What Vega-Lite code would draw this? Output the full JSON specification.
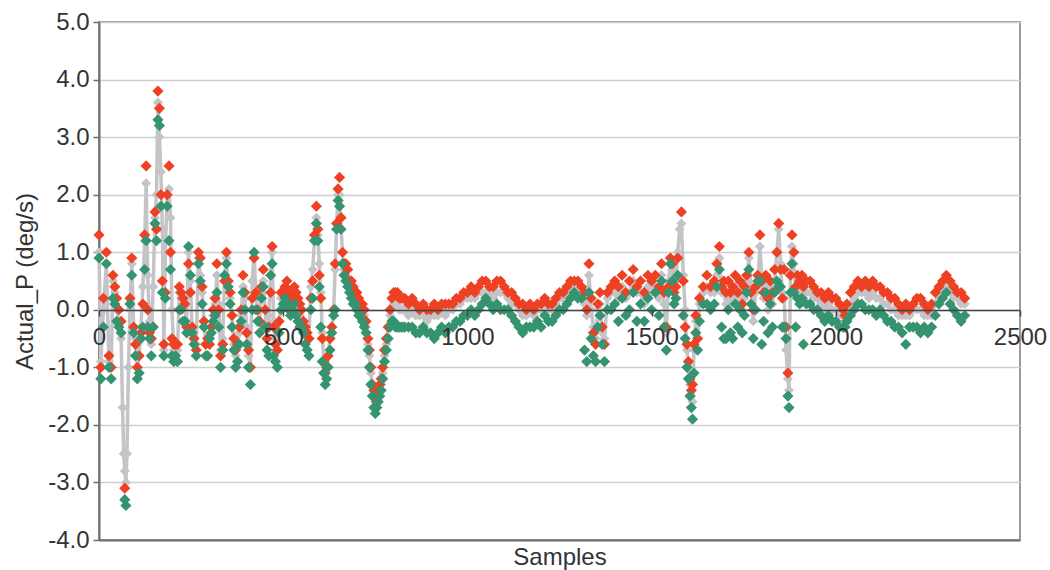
{
  "$schema": "https://vega.github.io/schema/vega-lite/v6.json",
  "width": 921,
  "height": 518,
  "autosize": "none",
  "padding": {"left": 99, "top": 22, "right": 30, "bottom": 30},
  "background": "white",
  "config": {
    "view": {"stroke": "#9a9a9a", "strokeWidth": 2},
    "font": "Liberation Sans"
  },
  "data": {"values": [
    {"s":0,"r":1.3,"m":1.0,"g":0.9},{"s":5,"r":-1.0,"m":-0.9,"g":-1.2},{"s":12,"r":0.2,"m":0.0,"g":-0.3},{"s":20,"r":1.0,"m":0.8,"g":0.8},
    {"s":27,"r":-0.8,"m":-0.9,"g":-1.0},{"s":33,"r":-1.0,"m":-1.0,"g":-1.2},{"s":38,"r":0.6,"m":0.5,"g":0.2},{"s":43,"r":0.4,"m":0.3,"g":0.1},
    {"s":48,"r":0.2,"m":0.0,"g":-0.2},{"s":54,"r":0.0,"m":-0.2,"g":-0.3},{"s":60,"r":-0.2,"m":-0.5,"g":-0.4},{"s":64,"r":null,"m":-1.7,"g":null},
    {"s":67,"r":null,"m":-2.5,"g":null},{"s":70,"r":-3.1,"m":-2.8,"g":-3.3},{"s":73,"r":null,"m":-3.0,"g":-3.4},{"s":76,"r":null,"m":-2.5,"g":null},
    {"s":80,"r":null,"m":-1.0,"g":null},{"s":84,"r":0.2,"m":0.0,"g":0.1},{"s":89,"r":0.9,"m":0.8,"g":0.6},{"s":94,"r":-0.3,"m":-0.3,"g":-0.4},
    {"s":99,"r":-0.6,"m":-0.5,"g":-0.8},{"s":104,"r":-1.0,"m":-1.0,"g":-1.2},{"s":109,"r":-0.8,"m":-0.8,"g":-1.1},{"s":114,"r":-0.4,"m":-0.3,"g":-0.5},
    {"s":119,"r":0.1,"m":0.4,"g":-0.3},{"s":124,"r":1.3,"m":1.2,"g":0.7},{"s":128,"r":2.5,"m":2.2,"g":1.2},{"s":132,"r":0.0,"m":0.6,"g":-0.3},
    {"s":137,"r":-0.4,"m":-0.2,"g":-0.5},{"s":142,"r":-0.5,"m":-0.6,"g":-0.8},{"s":147,"r":-0.3,"m":0.4,"g":-0.3},{"s":152,"r":1.7,"m":1.6,"g":1.5},
    {"s":156,"r":1.4,"m":2.0,"g":1.2},{"s":160,"r":3.8,"m":3.6,"g":3.3},{"s":164,"r":3.5,"m":3.0,"g":3.2},{"s":168,"r":2.0,"m":2.4,"g":1.8},
    {"s":172,"r":0.5,"m":1.4,"g":0.3},{"s":176,"r":-0.6,"m":-0.7,"g":-0.8},{"s":180,"r":0.3,"m":1.0,"g":0.2},{"s":185,"r":2.0,"m":2.0,"g":1.8},
    {"s":190,"r":2.5,"m":2.1,"g":1.2},{"s":194,"r":1.0,"m":1.6,"g":0.7},{"s":198,"r":-0.5,"m":0.0,"g":-0.8},{"s":203,"r":-0.6,"m":-0.7,"g":-0.9},
    {"s":208,"r":-0.6,"m":-0.6,"g":-0.8},{"s":213,"r":-0.6,"m":-0.7,"g":-0.9},{"s":218,"r":0.4,"m":0.3,"g":0.0},{"s":223,"r":0.3,"m":0.2,"g":0.0},
    {"s":228,"r":0.2,"m":0.1,"g":-0.2},{"s":233,"r":0.1,"m":0.0,"g":-0.2},{"s":238,"r":-0.3,"m":-0.2,"g":-0.4},{"s":243,"r":0.8,"m":1.0,"g":1.1},
    {"s":248,"r":0.3,"m":0.5,"g":0.6},{"s":253,"r":-0.3,"m":-0.4,"g":-0.4},{"s":258,"r":-0.5,"m":-0.5,"g":-0.6},{"s":264,"r":-0.7,"m":-0.6,"g":-0.8},
    {"s":270,"r":1.0,"m":0.9,"g":0.8},{"s":275,"r":0.9,"m":0.6,"g":0.5},{"s":280,"r":0.4,"m":0.3,"g":0.1},{"s":285,"r":-0.2,"m":-0.2,"g":-0.3},
    {"s":290,"r":-0.6,"m":-0.6,"g":-0.8},{"s":295,"r":-0.5,"m":-0.5,"g":-0.8},{"s":300,"r":-0.6,"m":-0.5,"g":-0.5},{"s":305,"r":-0.3,"m":-0.3,"g":-0.4},
    {"s":310,"r":0.0,"m":-0.1,"g":-0.2},{"s":315,"r":0.2,"m":0.1,"g":-0.1},{"s":320,"r":0.8,"m":0.6,"g":0.3},{"s":325,"r":0.0,"m":0.1,"g":-0.3},
    {"s":330,"r":-0.8,"m":-0.7,"g":-1.0},{"s":336,"r":-0.6,"m":-0.5,"g":-0.7},{"s":341,"r":0.5,"m":0.6,"g":0.6},{"s":346,"r":1.0,"m":0.9,"g":0.8},
    {"s":351,"r":0.5,"m":0.4,"g":0.4},{"s":356,"r":0.3,"m":0.2,"g":0.1},{"s":361,"r":-0.1,"m":-0.1,"g":-0.3},{"s":366,"r":-0.5,"m":-0.6,"g":-0.7},
    {"s":371,"r":-0.7,"m":-0.8,"g":-1.0},{"s":376,"r":-0.6,"m":-0.6,"g":-0.9},{"s":381,"r":-0.3,"m":-0.4,"g":-0.6},{"s":386,"r":0.0,"m":-0.1,"g":-0.2},
    {"s":391,"r":0.6,"m":0.4,"g":0.3},{"s":396,"r":0.3,"m":0.2,"g":0.0},{"s":401,"r":-0.4,"m":-0.3,"g":-0.6},{"s":406,"r":-0.7,"m":-0.8,"g":-1.0},
    {"s":411,"r":-1.0,"m":-1.0,"g":-1.3},{"s":416,"r":0.2,"m":0.5,"g":0.0},{"s":421,"r":0.9,"m":1.0,"g":1.0},{"s":426,"r":0.3,"m":0.2,"g":0.0},
    {"s":431,"r":0.0,"m":0.0,"g":-0.2},{"s":436,"r":-0.2,"m":-0.2,"g":-0.4},{"s":441,"r":0.4,"m":0.3,"g":0.2},{"s":446,"r":0.7,"m":0.5,"g":0.4},
    {"s":451,"r":0.0,"m":0.0,"g":-0.3},{"s":456,"r":-0.5,"m":-0.5,"g":-0.7},{"s":461,"r":-0.3,"m":-0.1,"g":-0.8},{"s":466,"r":0.3,"m":0.6,"g":0.6},
    {"s":470,"r":1.1,"m":1.0,"g":0.8},{"s":474,"r":-0.3,"m":-0.2,"g":-0.8},{"s":479,"r":-0.6,"m":-0.5,"g":-0.9},{"s":484,"r":-0.7,"m":-0.7,"g":-1.0},
    {"s":489,"r":-0.2,"m":-0.2,"g":-0.4},{"s":494,"r":0.3,"m":0.2,"g":0.0},{"s":500,"r":0.3,"m":0.2,"g":0.1},{"s":505,"r":0.4,"m":0.3,"g":0.2},
    {"s":510,"r":0.5,"m":0.3,"g":0.1},{"s":515,"r":0.3,"m":0.2,"g":0.0},{"s":520,"r":0.2,"m":0.1,"g":-0.1},{"s":525,"r":0.3,"m":0.2,"g":0.0},
    {"s":530,"r":0.4,"m":0.3,"g":0.1},{"s":535,"r":0.3,"m":0.1,"g":-0.1},{"s":540,"r":0.2,"m":0.0,"g":-0.2},{"s":545,"r":0.1,"m":-0.1,"g":-0.3},
    {"s":550,"r":0.0,"m":-0.2,"g":-0.3},{"s":555,"r":-0.2,"m":-0.3,"g":-0.4},{"s":560,"r":-0.3,"m":-0.4,"g":-0.6},{"s":565,"r":-0.4,"m":-0.4,"g":-0.7},
    {"s":570,"r":-0.5,"m":-0.5,"g":-0.8},{"s":575,"r":0.2,"m":0.4,"g":0.0},{"s":580,"r":0.5,"m":0.7,"g":0.2},{"s":585,"r":1.3,"m":1.2,"g":1.2},
    {"s":590,"r":1.8,"m":1.6,"g":1.5},{"s":594,"r":1.4,"m":1.3,"g":1.2},{"s":598,"r":0.6,"m":0.8,"g":0.4},{"s":602,"r":0.2,"m":0.3,"g":-0.3},
    {"s":606,"r":-0.5,"m":-0.4,"g":-0.9},{"s":610,"r":-0.9,"m":-0.9,"g":-1.1},{"s":614,"r":-1.1,"m":-1.1,"g":-1.3},{"s":618,"r":-1.0,"m":-1.0,"g":-1.2},
    {"s":622,"r":-0.8,"m":-0.8,"g":-1.0},{"s":627,"r":-0.5,"m":-0.5,"g":-0.7},{"s":632,"r":-0.3,"m":-0.3,"g":-0.4},{"s":637,"r":0.0,"m":0.0,"g":-0.1},
    {"s":641,"r":0.8,"m":0.7,"g":0.0},{"s":645,"r":1.5,"m":1.5,"g":1.4},{"s":649,"r":2.1,"m":2.0,"g":1.9},{"s":653,"r":2.3,"m":2.0,"g":1.8},
    {"s":657,"r":1.6,"m":1.4,"g":1.4},{"s":661,"r":1.0,"m":1.0,"g":0.8},{"s":665,"r":0.8,"m":0.7,"g":0.6},{"s":670,"r":0.8,"m":0.6,"g":0.5},
    {"s":675,"r":0.7,"m":0.5,"g":0.4},{"s":680,"r":0.5,"m":0.4,"g":0.3},{"s":685,"r":0.5,"m":0.3,"g":0.2},{"s":690,"r":0.4,"m":0.3,"g":0.1},
    {"s":695,"r":0.3,"m":0.2,"g":0.1},{"s":700,"r":0.3,"m":0.1,"g":0.0},{"s":705,"r":0.2,"m":0.1,"g":-0.1},{"s":710,"r":0.1,"m":0.0,"g":-0.1},
    {"s":715,"r":0.1,"m":-0.1,"g":-0.2},{"s":720,"r":0.0,"m":-0.1,"g":-0.3},{"s":725,"r":-0.2,"m":-0.3,"g":-0.4},{"s":730,"r":-0.5,"m":-0.6,"g":-0.7},
    {"s":734,"r":-0.7,"m":-0.8,"g":-1.0},{"s":738,"r":-1.0,"m":-1.1,"g":-1.3},{"s":742,"r":-1.3,"m":-1.3,"g":-1.5},{"s":746,"r":-1.4,"m":-1.5,"g":-1.7},
    {"s":750,"r":-1.5,"m":-1.6,"g":-1.8},{"s":754,"r":-1.6,"m":-1.6,"g":-1.7},{"s":758,"r":-1.4,"m":-1.5,"g":-1.6},{"s":762,"r":-1.3,"m":-1.4,"g":-1.5},
    {"s":766,"r":-1.2,"m":-1.3,"g":-1.4},{"s":770,"r":-1.0,"m":-1.1,"g":-1.2},{"s":775,"r":-0.7,"m":-0.8,"g":-0.9},{"s":780,"r":-0.5,"m":-0.6,"g":-0.7},
    {"s":785,"r":-0.3,"m":-0.3,"g":-0.5},{"s":790,"r":0.0,"m":-0.1,"g":-0.3},{"s":795,"r":0.2,"m":0.0,"g":-0.2},{"s":800,"r":0.3,"m":0.1,"g":-0.2},
    {"s":805,"r":0.3,"m":0.1,"g":-0.3},{"s":810,"r":0.3,"m":0.1,"g":-0.3},{"s":815,"r":0.2,"m":0.0,"g":-0.3},{"s":820,"r":0.2,"m":0.0,"g":-0.3},
    {"s":825,"r":0.2,"m":0.0,"g":-0.3},{"s":830,"r":0.2,"m":0.0,"g":-0.3},{"s":840,"r":0.1,"m":-0.1,"g":-0.3},{"s":850,"r":0.2,"m":0.0,"g":-0.3},
    {"s":860,"r":0.1,"m":-0.1,"g":-0.4},{"s":870,"r":0.0,"m":-0.1,"g":-0.4},{"s":880,"r":0.1,"m":-0.1,"g":-0.3},{"s":890,"r":0.0,"m":-0.2,"g":-0.4},
    {"s":900,"r":0.0,"m":-0.1,"g":-0.4},{"s":910,"r":0.1,"m":-0.1,"g":-0.5},{"s":920,"r":0.0,"m":-0.1,"g":-0.4},{"s":930,"r":0.1,"m":0.0,"g":-0.3},
    {"s":940,"r":0.1,"m":-0.1,"g":-0.4},{"s":950,"r":0.1,"m":0.0,"g":-0.3},{"s":960,"r":0.1,"m":0.0,"g":-0.3},{"s":970,"r":0.2,"m":0.1,"g":-0.2},
    {"s":980,"r":0.2,"m":0.1,"g":-0.2},{"s":990,"r":0.3,"m":0.2,"g":-0.1},{"s":1000,"r":0.3,"m":0.2,"g":-0.1},{"s":1010,"r":0.4,"m":0.2,"g":0.0},
    {"s":1020,"r":0.3,"m":0.2,"g":-0.1},{"s":1030,"r":0.4,"m":0.3,"g":0.0},{"s":1040,"r":0.5,"m":0.3,"g":0.1},{"s":1050,"r":0.5,"m":0.3,"g":0.2},
    {"s":1060,"r":0.4,"m":0.3,"g":0.1},{"s":1070,"r":0.4,"m":0.2,"g":0.0},{"s":1080,"r":0.5,"m":0.3,"g":0.1},{"s":1090,"r":0.5,"m":0.3,"g":0.0},
    {"s":1100,"r":0.4,"m":0.3,"g":0.0},{"s":1110,"r":0.3,"m":0.2,"g":0.0},{"s":1120,"r":0.3,"m":0.1,"g":-0.1},{"s":1130,"r":0.2,"m":0.1,"g":-0.2},
    {"s":1140,"r":0.1,"m":0.0,"g":-0.3},{"s":1150,"r":0.1,"m":-0.1,"g":-0.4},{"s":1160,"r":0.0,"m":-0.1,"g":-0.3},{"s":1170,"r":0.1,"m":0.0,"g":-0.3},
    {"s":1180,"r":0.0,"m":-0.1,"g":-0.3},{"s":1190,"r":0.1,"m":0.0,"g":-0.2},{"s":1200,"r":0.1,"m":0.0,"g":-0.3},{"s":1210,"r":0.2,"m":0.1,"g":-0.1},
    {"s":1220,"r":0.1,"m":0.0,"g":-0.2},{"s":1230,"r":0.1,"m":0.0,"g":-0.2},{"s":1240,"r":0.2,"m":0.1,"g":-0.1},{"s":1250,"r":0.3,"m":0.2,"g":0.0},
    {"s":1260,"r":0.3,"m":0.2,"g":0.0},{"s":1270,"r":0.4,"m":0.3,"g":0.1},{"s":1280,"r":0.5,"m":0.4,"g":0.2},{"s":1290,"r":0.5,"m":0.4,"g":0.3},
    {"s":1300,"r":0.5,"m":0.4,"g":0.2},{"s":1310,"r":0.4,"m":0.3,"g":0.2},{"s":1318,"r":0.3,"m":0.1,"g":-0.7},{"s":1324,"r":0.0,"m":-0.1,"g":-0.9},
    {"s":1330,"r":0.8,"m":0.6,"g":0.3},{"s":1336,"r":0.2,"m":0.0,"g":-0.5},{"s":1342,"r":-0.4,"m":-0.3,"g":-0.8},{"s":1348,"r":-0.6,"m":-0.5,"g":-0.9},
    {"s":1354,"r":0.1,"m":0.0,"g":-0.3},{"s":1360,"r":0.3,"m":0.1,"g":-0.1},{"s":1366,"r":-0.3,"m":-0.4,"g":-0.6},{"s":1372,"r":-0.6,"m":-0.5,"g":-0.9},
    {"s":1380,"r":0.3,"m":0.2,"g":0.0},{"s":1390,"r":0.4,"m":0.3,"g":0.0},{"s":1400,"r":0.5,"m":0.3,"g":0.1},{"s":1410,"r":0.4,"m":0.2,"g":-0.2},
    {"s":1420,"r":0.6,"m":0.4,"g":0.2},{"s":1430,"r":0.3,"m":0.2,"g":-0.1},{"s":1440,"r":0.5,"m":0.3,"g":0.0},{"s":1450,"r":0.7,"m":0.5,"g":0.3},
    {"s":1460,"r":0.4,"m":0.3,"g":-0.2},{"s":1470,"r":0.5,"m":0.3,"g":0.1},{"s":1480,"r":0.3,"m":0.1,"g":-0.2},{"s":1490,"r":0.6,"m":0.4,"g":0.2},
    {"s":1500,"r":0.5,"m":0.3,"g":0.0},{"s":1510,"r":0.6,"m":0.4,"g":0.3},{"s":1520,"r":0.4,"m":0.2,"g":-0.1},{"s":1527,"r":0.8,"m":0.6,"g":0.5},
    {"s":1534,"r":0.3,"m":0.1,"g":-0.3},{"s":1540,"r":-0.3,"m":-0.4,"g":-0.7},{"s":1546,"r":0.4,"m":0.5,"g":0.3},{"s":1551,"r":0.9,"m":0.8,"g":0.8},
    {"s":1556,"r":0.8,"m":0.7,"g":0.5},{"s":1561,"r":0.3,"m":0.4,"g":0.1},{"s":1566,"r":0.4,"m":0.5,"g":0.2},{"s":1571,"r":0.9,"m":1.0,"g":0.6},
    {"s":1576,"r":null,"m":1.4,"g":null},{"s":1581,"r":1.7,"m":1.5,"g":null},{"s":1586,"r":0.5,"m":0.6,"g":-0.1},{"s":1591,"r":-0.3,"m":0.0,"g":-0.5},
    {"s":1596,"r":-0.6,"m":-0.7,"g":-1.0},{"s":1600,"r":-0.9,"m":-1.0,"g":-1.2},{"s":1604,"r":-1.2,"m":-1.3,"g":-1.5},{"s":1608,"r":-1.4,"m":-1.5,"g":-1.7},
    {"s":1611,"r":-1.3,"m":-1.6,"g":-1.9},{"s":1615,"r":-0.6,"m":-0.7,"g":-1.1},{"s":1620,"r":-0.1,"m":-0.2,"g":-0.4},{"s":1625,"r":-0.5,"m":-0.5,"g":-0.7},
    {"s":1630,"r":0.2,"m":0.1,"g":-0.2},{"s":1640,"r":0.4,"m":0.3,"g":0.1},{"s":1650,"r":0.6,"m":0.4,"g":0.1},{"s":1660,"r":0.4,"m":0.3,"g":0.0},
    {"s":1670,"r":0.5,"m":0.3,"g":0.1},{"s":1677,"r":0.8,"m":0.6,"g":0.4},{"s":1684,"r":1.1,"m":0.9,"g":0.7},{"s":1690,"r":0.4,"m":0.3,"g":-0.3},
    {"s":1696,"r":0.5,"m":0.3,"g":-0.5},{"s":1702,"r":0.3,"m":0.1,"g":-0.5},{"s":1708,"r":0.5,"m":0.3,"g":0.0},{"s":1714,"r":0.3,"m":0.1,"g":-0.4},
    {"s":1720,"r":0.4,"m":0.2,"g":-0.5},{"s":1727,"r":0.6,"m":0.4,"g":0.1},{"s":1734,"r":0.3,"m":0.1,"g":-0.3},{"s":1740,"r":0.5,"m":0.3,"g":0.0},
    {"s":1746,"r":0.1,"m":0.0,"g":-0.4},{"s":1752,"r":0.4,"m":0.2,"g":-0.1},{"s":1758,"r":0.6,"m":0.5,"g":0.3},{"s":1764,"r":1.0,"m":0.9,"g":0.7},
    {"s":1770,"r":0.3,"m":0.4,"g":0.1},{"s":1776,"r":0.0,"m":-0.2,"g":-0.5},{"s":1782,"r":0.4,"m":0.3,"g":0.0},{"s":1788,"r":0.6,"m":0.4,"g":0.5},
    {"s":1794,"r":1.3,"m":1.1,"g":0.5},{"s":1799,"r":0.5,"m":0.6,"g":-0.6},{"s":1804,"r":0.3,"m":0.2,"g":-0.2},{"s":1810,"r":0.6,"m":0.4,"g":0.3},
    {"s":1816,"r":0.2,"m":0.0,"g":-0.4},{"s":1822,"r":0.5,"m":0.4,"g":0.1},{"s":1828,"r":0.3,"m":0.1,"g":-0.3},{"s":1834,"r":0.7,"m":0.5,"g":0.3},
    {"s":1840,"r":1.0,"m":1.0,"g":0.5},{"s":1845,"r":1.5,"m":1.4,"g":0.4},{"s":1850,"r":0.7,"m":0.8,"g":0.4},{"s":1855,"r":0.2,"m":0.3,"g":-0.3},
    {"s":1860,"r":0.7,"m":0.2,"g":-0.3},{"s":1865,"r":-0.3,"m":-0.7,"g":-0.5},{"s":1870,"r":-1.1,"m":-1.2,"g":-1.5},{"s":1873,"r":null,"m":-1.4,"g":-1.7},
    {"s":1877,"r":0.6,"m":0.6,"g":0.3},{"s":1881,"r":1.3,"m":1.1,"g":0.8},{"s":1886,"r":1.0,"m":0.8,"g":0.3},{"s":1891,"r":0.4,"m":0.3,"g":-0.3},
    {"s":1896,"r":0.6,"m":0.4,"g":0.2},{"s":1902,"r":0.5,"m":0.3,"g":0.1},{"s":1908,"r":0.6,"m":0.4,"g":0.2},{"s":1912,"r":0.4,"m":0.2,"g":-0.6},
    {"s":1920,"r":0.5,"m":0.3,"g":0.1},{"s":1930,"r":0.5,"m":0.3,"g":0.1},{"s":1940,"r":0.4,"m":0.2,"g":0.0},{"s":1950,"r":0.3,"m":0.2,"g":0.0},
    {"s":1960,"r":0.3,"m":0.1,"g":-0.1},{"s":1970,"r":0.2,"m":0.0,"g":-0.2},{"s":1980,"r":0.3,"m":0.1,"g":-0.1},{"s":1990,"r":0.2,"m":0.0,"g":-0.2},
    {"s":2000,"r":0.2,"m":0.0,"g":-0.2},{"s":2010,"r":0.1,"m":-0.1,"g":-0.3},{"s":2020,"r":0.0,"m":-0.1,"g":-0.3},{"s":2025,"r":-0.1,"m":-0.2,"g":-0.3},
    {"s":2030,"r":0.1,"m":0.0,"g":-0.2},{"s":2040,"r":0.3,"m":0.1,"g":-0.1},{"s":2050,"r":0.4,"m":0.2,"g":0.0},{"s":2060,"r":0.5,"m":0.3,"g":0.1},
    {"s":2070,"r":0.4,"m":0.3,"g":0.1},{"s":2080,"r":0.5,"m":0.3,"g":0.0},{"s":2090,"r":0.4,"m":0.2,"g":0.0},{"s":2100,"r":0.5,"m":0.3,"g":0.0},
    {"s":2110,"r":0.4,"m":0.2,"g":-0.1},{"s":2120,"r":0.4,"m":0.2,"g":0.0},{"s":2130,"r":0.3,"m":0.1,"g":-0.1},{"s":2140,"r":0.3,"m":0.1,"g":-0.2},
    {"s":2150,"r":0.2,"m":0.0,"g":-0.2},{"s":2160,"r":0.2,"m":0.0,"g":-0.3},{"s":2170,"r":0.1,"m":-0.1,"g":-0.3},{"s":2180,"r":0.0,"m":-0.1,"g":-0.4},
    {"s":2190,"r":0.1,"m":-0.1,"g":-0.6},{"s":2200,"r":0.0,"m":-0.1,"g":-0.3},{"s":2210,"r":0.1,"m":0.0,"g":-0.3},{"s":2220,"r":0.2,"m":0.0,"g":-0.3},
    {"s":2230,"r":0.2,"m":0.0,"g":-0.4},{"s":2240,"r":0.1,"m":-0.1,"g":-0.3},{"s":2250,"r":0.0,"m":-0.1,"g":-0.4},{"s":2260,"r":0.1,"m":-0.1,"g":-0.3},
    {"s":2270,"r":0.3,"m":0.1,"g":-0.1},{"s":2280,"r":0.4,"m":0.2,"g":0.1},{"s":2290,"r":0.5,"m":0.3,"g":0.2},{"s":2300,"r":0.6,"m":0.4,"g":0.3},
    {"s":2310,"r":0.5,"m":0.3,"g":0.1},{"s":2320,"r":0.4,"m":0.2,"g":0.0},{"s":2330,"r":0.3,"m":0.2,"g":-0.1},{"s":2340,"r":0.3,"m":0.1,"g":-0.2},
    {"s":2350,"r":0.2,"m":0.1,"g":-0.1}
  ]},
  "layer": [
    {
      "mark": {"type": "line", "color": "#c4c4c8", "strokeWidth": 3.5},
      "encoding": {
        "x": {"field": "s", "type": "quantitative", "scale": {"domain": [0, 2500], "nice": false, "zero": false},
          "axis": {"orient": "bottom", "title": "Samples", "labels": false, "ticks": false, "grid": false, "domain": true, "domainColor": "#6e6e6e", "domainWidth": 2,
            "titleFontSize": 24, "titleFontWeight": "normal", "titleColor": "#333333", "titlePadding": 5}},
        "y": {"field": "m", "type": "quantitative", "scale": {"domain": [-4, 5], "nice": false, "zero": false},
          "axis": {"title": "Actual_P (deg/s)", "values": [-4, -3, -2, -1, 0, 1, 2, 3, 4, 5],
            "labelExpr": "datum.value < 0 ? '-' + format(-datum.value, '.1f') : format(datum.value, '.1f')",
            "grid": true, "gridColor": "#cfcfcf", "gridWidth": 1.5,
            "labelFontSize": 24, "labelColor": "#333333", "labelPadding": 4,
            "tickSize": 6, "tickColor": "#6e6e6e", "tickWidth": 1.5,
            "domainColor": "#6e6e6e", "domainWidth": 2,
            "titleFontSize": 24, "titleFontWeight": "normal", "titleColor": "#333333", "titlePadding": 10}}
      }
    },
    {
      "mark": {"type": "point", "shape": "diamond", "filled": true, "color": "#c4c4c8", "size": 100, "opacity": 1},
      "encoding": {
        "x": {"field": "s", "type": "quantitative",
          "axis": {"orient": "bottom", "title": null, "values": [0, 500, 1000, 1500, 2000, 2500], "format": "d", "offset": -230, "grid": false, "zindex": 1,
            "domainColor": "#444444", "domainWidth": 1.5, "tickColor": "#444444", "tickSize": 6, "tickWidth": 1.5,
            "labelFontSize": 24, "labelColor": "#333333", "labelPadding": 9, "labelFlush": false}},
        "y": {"field": "m", "type": "quantitative", "axis": null}
      }
    },
    {
      "mark": {"type": "point", "shape": "diamond", "filled": true, "color": "#ee4124", "size": 125, "opacity": 1},
      "encoding": {
        "x": {"field": "s", "type": "quantitative", "axis": null},
        "y": {"field": "r", "type": "quantitative", "axis": null}
      }
    },
    {
      "mark": {"type": "point", "shape": "diamond", "filled": true, "color": "#35946f", "size": 125, "opacity": 1},
      "encoding": {
        "x": {"field": "s", "type": "quantitative", "axis": null},
        "y": {"field": "g", "type": "quantitative", "axis": null}
      }
    }
  ],
  "resolve": {"axis": {"x": "independent", "y": "independent"}}
}
